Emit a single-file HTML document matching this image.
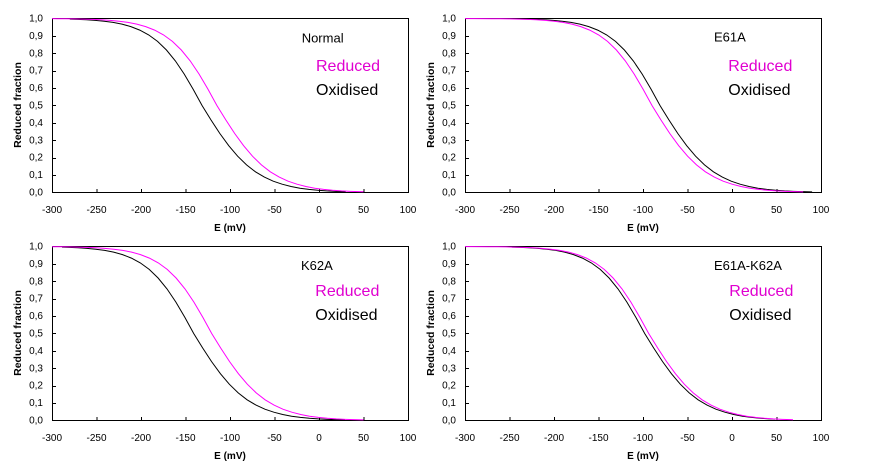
<!DOCTYPE html>
<html>
<head>
<meta charset="utf-8">
<style>
  html,body{margin:0;padding:0;background:#fff;}
  svg{display:block;}
  text{font-family:"Liberation Sans",Arial,sans-serif;fill:#000;}
  .tk{font-size:10px;}
  .ax{font-size:10px;font-weight:bold;}
  .yt{font-size:10.5px;font-weight:bold;}
  .ttl{font-size:13px;}
  .lg{font-size:16px;}
  .mg{fill:#e000d0;}
</style>
</head>
<body>
<svg width="870" height="474" viewBox="0 0 870 474" xmlns="http://www.w3.org/2000/svg">
<rect width="870" height="474" fill="#fff"/>
<defs>
  <clipPath id="c1b" clipPathUnits="userSpaceOnUse"><rect x="17.8" y="-3" width="275.9" height="181"/></clipPath>
  <clipPath id="c1m" clipPathUnits="userSpaceOnUse"><rect x="0" y="-3" width="311.5" height="181"/></clipPath>
  <clipPath id="c2b" clipPathUnits="userSpaceOnUse"><rect x="55.2" y="-3" width="291.9" height="181"/></clipPath>
  <clipPath id="c2m" clipPathUnits="userSpaceOnUse"><rect x="0" y="-3" width="338.2" height="181"/></clipPath>
  <clipPath id="c3b" clipPathUnits="userSpaceOnUse"><rect x="10" y="-3" width="283" height="181"/></clipPath>
  <clipPath id="c3m" clipPathUnits="userSpaceOnUse"><rect x="0" y="-3" width="311.5" height="181"/></clipPath>
  <clipPath id="c4b" clipPathUnits="userSpaceOnUse"><rect x="46.7" y="-3" width="263.3" height="181"/></clipPath>
  <clipPath id="c4m" clipPathUnits="userSpaceOnUse"><rect x="0" y="-3" width="328" height="181"/></clipPath>
</defs>

<!-- ===== Chart 1: Normal ===== -->
<g transform="translate(52,18)">
  <g shape-rendering="crispEdges" stroke="#000" stroke-width="1" fill="none">
    <rect x="0.5" y="0.5" width="356" height="174"/>
    <path d="M0,157.5h4M0,140.5h4M0,122.5h4M0,105.5h4M0,87.5h4M0,70.5h4M0,53.5h4M0,35.5h4M0,18.5h4"/>
    <path d="M45,174v-3M89.5,174v-3M134,174v-3M178.5,174v-3M223,174v-3M267.5,174v-3M312,174v-3"/>
  </g>
  <g class="tk" text-anchor="end">
    <text x="-9" y="177.5">0,0</text><text x="-9" y="160.1">0,1</text><text x="-9" y="142.7">0,2</text>
    <text x="-9" y="125.3">0,3</text><text x="-9" y="107.9">0,4</text><text x="-9" y="90.5">0,5</text>
    <text x="-9" y="73.1">0,6</text><text x="-9" y="55.7">0,7</text><text x="-9" y="38.3">0,8</text>
    <text x="-9" y="20.9">0,9</text><text x="-9" y="3.5">1,0</text>
  </g>
  <g class="tk" text-anchor="middle">
    <text x="0" y="195">-300</text><text x="44.5" y="195">-250</text><text x="89" y="195">-200</text>
    <text x="133.5" y="195">-150</text><text x="178" y="195">-100</text><text x="222.5" y="195">-50</text>
    <text x="267" y="195">0</text><text x="311.5" y="195">50</text><text x="356" y="195">100</text>
  </g>
  <text class="ax" x="178" y="213" text-anchor="middle">E (mV)</text>
  <text class="yt" transform="translate(-31,87) rotate(-90)" text-anchor="middle">Reduced fraction</text>
  <text class="ttl" x="249.7" y="24.3">Normal</text>
  <text class="lg mg" x="264" y="53">Reduced</text>
  <text class="lg" x="264" y="77">Oxidised</text>
  <g clip-path="url(#c1b)"><polyline transform="translate(150.05,174.5)" fill="none" stroke="#000" stroke-width="1" points="-195.8,-173.95 -178,-173.9 -160.2,-173.8 -151.3,-173.7 -142.4,-173.6 -133.5,-173.4 -124.6,-173.1 -115.7,-172.7 -106.8,-172.1 -97.9,-171.3 -89,-170.1 -80.1,-168.4 -71.2,-165.9 -62.3,-162.4 -53.4,-157.6 -44.5,-151.1 -35.6,-142.5 -26.7,-131.6 -17.8,-118.4 -8.9,-103.2 0,-87 8.9,-72.6 17.8,-59 26.7,-46.8 35.6,-36.3 44.5,-27.6 53.4,-20.7 62.3,-15.4 71.2,-11.3 80.1,-8.3 89,-6 97.9,-4.3 106.8,-3.1 115.7,-2.25 124.6,-1.6 133.5,-1.16 142.4,-0.84 151.3,-0.6 160.2,-0.43 169.1,-0.31 178,-0.22 195.8,-0.11 213.6,-0.06"/></g>
  <g clip-path="url(#c1m)"><polyline transform="translate(164.9,174.5)" fill="none" stroke="#ff00ff" stroke-width="1" points="-195.8,-173.95 -178,-173.9 -160.2,-173.8 -151.3,-173.7 -142.4,-173.6 -133.5,-173.4 -124.6,-173.1 -115.7,-172.7 -106.8,-172.1 -97.9,-171.3 -89,-170.1 -80.1,-168.4 -71.2,-165.9 -62.3,-162.4 -53.4,-157.6 -44.5,-151.1 -35.6,-142.5 -26.7,-131.6 -17.8,-118.4 -8.9,-103.2 0,-87 8.9,-72.6 17.8,-59 26.7,-46.8 35.6,-36.3 44.5,-27.6 53.4,-20.7 62.3,-15.4 71.2,-11.3 80.1,-8.3 89,-6 97.9,-4.3 106.8,-3.1 115.7,-2.25 124.6,-1.6 133.5,-1.16 142.4,-0.84 151.3,-0.6 160.2,-0.43 169.1,-0.31 178,-0.22 195.8,-0.11 213.6,-0.06"/></g>
</g>

<!-- ===== Chart 2: E61A ===== -->
<g transform="translate(465,18)">
  <g shape-rendering="crispEdges" stroke="#000" stroke-width="1" fill="none">
    <rect x="0.5" y="0.5" width="356" height="174"/>
    <path d="M0,157.5h4M0,140.5h4M0,122.5h4M0,105.5h4M0,87.5h4M0,70.5h4M0,53.5h4M0,35.5h4M0,18.5h4"/>
    <path d="M45,174v-3M89.5,174v-3M134,174v-3M178.5,174v-3M223,174v-3M267.5,174v-3M312,174v-3"/>
  </g>
  <g class="tk" text-anchor="end">
    <text x="-9" y="177.5">0,0</text><text x="-9" y="160.1">0,1</text><text x="-9" y="142.7">0,2</text>
    <text x="-9" y="125.3">0,3</text><text x="-9" y="107.9">0,4</text><text x="-9" y="90.5">0,5</text>
    <text x="-9" y="73.1">0,6</text><text x="-9" y="55.7">0,7</text><text x="-9" y="38.3">0,8</text>
    <text x="-9" y="20.9">0,9</text><text x="-9" y="3.5">1,0</text>
  </g>
  <g class="tk" text-anchor="middle">
    <text x="0" y="195">-300</text><text x="44.5" y="195">-250</text><text x="89" y="195">-200</text>
    <text x="133.5" y="195">-150</text><text x="178" y="195">-100</text><text x="222.5" y="195">-50</text>
    <text x="267" y="195">0</text><text x="311.5" y="195">50</text><text x="356" y="195">100</text>
  </g>
  <text class="ax" x="178" y="213" text-anchor="middle">E (mV)</text>
  <text class="yt" transform="translate(-31,87) rotate(-90)" text-anchor="middle">Reduced fraction</text>
  <text class="ttl" x="249" y="23.7">E61A</text>
  <text class="lg mg" x="263.3" y="53">Reduced</text>
  <text class="lg" x="263.3" y="77">Oxidised</text>
  <g clip-path="url(#c2b)"><polyline transform="translate(195,174.5)" fill="none" stroke="#000" stroke-width="1" points="-195.8,-173.95 -178,-173.9 -160.2,-173.8 -151.3,-173.7 -142.4,-173.6 -133.5,-173.4 -124.6,-173.1 -115.7,-172.7 -106.8,-172.1 -97.9,-171.3 -89,-170.1 -80.1,-168.4 -71.2,-165.9 -62.3,-162.4 -53.4,-157.6 -44.5,-151.1 -35.6,-142.5 -26.7,-131.6 -17.8,-118.4 -8.9,-103.2 0,-87 8.9,-72.6 17.8,-59 26.7,-46.8 35.6,-36.3 44.5,-27.6 53.4,-20.7 62.3,-15.4 71.2,-11.3 80.1,-8.3 89,-6 97.9,-4.3 106.8,-3.1 115.7,-2.25 124.6,-1.6 133.5,-1.16 142.4,-0.84 151.3,-0.6 160.2,-0.43 169.1,-0.31 178,-0.22 195.8,-0.11 213.6,-0.06"/></g>
  <g clip-path="url(#c2m)"><polyline transform="translate(187,174.5)" fill="none" stroke="#ff00ff" stroke-width="1" points="-195.8,-173.95 -178,-173.9 -160.2,-173.8 -151.3,-173.7 -142.4,-173.6 -133.5,-173.4 -124.6,-173.1 -115.7,-172.7 -106.8,-172.1 -97.9,-171.3 -89,-170.1 -80.1,-168.4 -71.2,-165.9 -62.3,-162.4 -53.4,-157.6 -44.5,-151.1 -35.6,-142.5 -26.7,-131.6 -17.8,-118.4 -8.9,-103.2 0,-87 8.9,-72.6 17.8,-59 26.7,-46.8 35.6,-36.3 44.5,-27.6 53.4,-20.7 62.3,-15.4 71.2,-11.3 80.1,-8.3 89,-6 97.9,-4.3 106.8,-3.1 115.7,-2.25 124.6,-1.6 133.5,-1.16 142.4,-0.84 151.3,-0.6 160.2,-0.43 169.1,-0.31 178,-0.22 195.8,-0.11 213.6,-0.06"/></g>
</g>

<!-- ===== Chart 3: K62A ===== -->
<g transform="translate(52,246)">
  <g shape-rendering="crispEdges" stroke="#000" stroke-width="1" fill="none">
    <rect x="0.5" y="0.5" width="356" height="174"/>
    <path d="M0,157.5h4M0,140.5h4M0,122.5h4M0,105.5h4M0,87.5h4M0,70.5h4M0,53.5h4M0,35.5h4M0,18.5h4"/>
    <path d="M45,174v-3M89.5,174v-3M134,174v-3M178.5,174v-3M223,174v-3M267.5,174v-3M312,174v-3"/>
  </g>
  <g class="tk" text-anchor="end">
    <text x="-9" y="177.5">0,0</text><text x="-9" y="160.1">0,1</text><text x="-9" y="142.7">0,2</text>
    <text x="-9" y="125.3">0,3</text><text x="-9" y="107.9">0,4</text><text x="-9" y="90.5">0,5</text>
    <text x="-9" y="73.1">0,6</text><text x="-9" y="55.7">0,7</text><text x="-9" y="38.3">0,8</text>
    <text x="-9" y="20.9">0,9</text><text x="-9" y="3.5">1,0</text>
  </g>
  <g class="tk" text-anchor="middle">
    <text x="0" y="195">-300</text><text x="44.5" y="195">-250</text><text x="89" y="195">-200</text>
    <text x="133.5" y="195">-150</text><text x="178" y="195">-100</text><text x="222.5" y="195">-50</text>
    <text x="267" y="195">0</text><text x="311.5" y="195">50</text><text x="356" y="195">100</text>
  </g>
  <text class="ax" x="178" y="213" text-anchor="middle">E (mV)</text>
  <text class="yt" transform="translate(-31,87) rotate(-90)" text-anchor="middle">Reduced fraction</text>
  <text class="ttl" x="249" y="24">K62A</text>
  <text class="lg mg" x="263.3" y="50">Reduced</text>
  <text class="lg" x="263.3" y="74">Oxidised</text>
  <g clip-path="url(#c3b)"><polyline transform="translate(141.7,174.5)" fill="none" stroke="#000" stroke-width="1" points="-195.8,-173.95 -178,-173.9 -160.2,-173.8 -151.3,-173.7 -142.4,-173.6 -133.5,-173.4 -124.6,-173.1 -115.7,-172.7 -106.8,-172.1 -97.9,-171.3 -89,-170.1 -80.1,-168.4 -71.2,-165.9 -62.3,-162.4 -53.4,-157.6 -44.5,-151.1 -35.6,-142.5 -26.7,-131.6 -17.8,-118.4 -8.9,-103.2 0,-87 8.9,-72.6 17.8,-59 26.7,-46.8 35.6,-36.3 44.5,-27.6 53.4,-20.7 62.3,-15.4 71.2,-11.3 80.1,-8.3 89,-6 97.9,-4.3 106.8,-3.1 115.7,-2.25 124.6,-1.6 133.5,-1.16 142.4,-0.84 151.3,-0.6 160.2,-0.43 169.1,-0.31 178,-0.22 195.8,-0.11 213.6,-0.06"/></g>
  <g clip-path="url(#c3m)"><polyline transform="translate(159.7,174.5)" fill="none" stroke="#ff00ff" stroke-width="1" points="-195.8,-173.95 -178,-173.9 -160.2,-173.8 -151.3,-173.7 -142.4,-173.6 -133.5,-173.4 -124.6,-173.1 -115.7,-172.7 -106.8,-172.1 -97.9,-171.3 -89,-170.1 -80.1,-168.4 -71.2,-165.9 -62.3,-162.4 -53.4,-157.6 -44.5,-151.1 -35.6,-142.5 -26.7,-131.6 -17.8,-118.4 -8.9,-103.2 0,-87 8.9,-72.6 17.8,-59 26.7,-46.8 35.6,-36.3 44.5,-27.6 53.4,-20.7 62.3,-15.4 71.2,-11.3 80.1,-8.3 89,-6 97.9,-4.3 106.8,-3.1 115.7,-2.25 124.6,-1.6 133.5,-1.16 142.4,-0.84 151.3,-0.6 160.2,-0.43 169.1,-0.31 178,-0.22 195.8,-0.11 213.6,-0.06"/></g>
</g>

<!-- ===== Chart 4: E61A-K62A ===== -->
<g transform="translate(465,246)">
  <g shape-rendering="crispEdges" stroke="#000" stroke-width="1" fill="none">
    <rect x="0.5" y="0.5" width="356" height="174"/>
    <path d="M0,157.5h4M0,140.5h4M0,122.5h4M0,105.5h4M0,87.5h4M0,70.5h4M0,53.5h4M0,35.5h4M0,18.5h4"/>
    <path d="M45,174v-3M89.5,174v-3M134,174v-3M178.5,174v-3M223,174v-3M267.5,174v-3M312,174v-3"/>
  </g>
  <g class="tk" text-anchor="end">
    <text x="-9" y="177.5">0,0</text><text x="-9" y="160.1">0,1</text><text x="-9" y="142.7">0,2</text>
    <text x="-9" y="125.3">0,3</text><text x="-9" y="107.9">0,4</text><text x="-9" y="90.5">0,5</text>
    <text x="-9" y="73.1">0,6</text><text x="-9" y="55.7">0,7</text><text x="-9" y="38.3">0,8</text>
    <text x="-9" y="20.9">0,9</text><text x="-9" y="3.5">1,0</text>
  </g>
  <g class="tk" text-anchor="middle">
    <text x="0" y="195">-300</text><text x="44.5" y="195">-250</text><text x="89" y="195">-200</text>
    <text x="133.5" y="195">-150</text><text x="178" y="195">-100</text><text x="222.5" y="195">-50</text>
    <text x="267" y="195">0</text><text x="311.5" y="195">50</text><text x="356" y="195">100</text>
  </g>
  <text class="ax" x="178" y="213" text-anchor="middle">E (mV)</text>
  <text class="yt" transform="translate(-31,87) rotate(-90)" text-anchor="middle">Reduced fraction</text>
  <text class="ttl" x="249" y="24">E61A-K62A</text>
  <text class="lg mg" x="264.3" y="50">Reduced</text>
  <text class="lg" x="264.3" y="74">Oxidised</text>
  <g clip-path="url(#c4b)"><polyline transform="translate(179.7,174.5)" fill="none" stroke="#000" stroke-width="1" points="-195.8,-173.95 -178,-173.9 -160.2,-173.8 -151.3,-173.7 -142.4,-173.6 -133.5,-173.4 -124.6,-173.1 -115.7,-172.7 -106.8,-172.1 -97.9,-171.3 -89,-170.1 -80.1,-168.4 -71.2,-165.9 -62.3,-162.4 -53.4,-157.6 -44.5,-151.1 -35.6,-142.5 -26.7,-131.6 -17.8,-118.4 -8.9,-103.2 0,-87 8.9,-72.6 17.8,-59 26.7,-46.8 35.6,-36.3 44.5,-27.6 53.4,-20.7 62.3,-15.4 71.2,-11.3 80.1,-8.3 89,-6 97.9,-4.3 106.8,-3.1 115.7,-2.25 124.6,-1.6 133.5,-1.16 142.4,-0.84 151.3,-0.6 160.2,-0.43 169.1,-0.31 178,-0.22 195.8,-0.11 213.6,-0.06"/></g>
  <g clip-path="url(#c4m)"><polyline transform="translate(183.7,174.5)" fill="none" stroke="#ff00ff" stroke-width="1" points="-195.8,-173.95 -178,-173.9 -160.2,-173.8 -151.3,-173.7 -142.4,-173.6 -133.5,-173.4 -124.6,-173.1 -115.7,-172.7 -106.8,-172.1 -97.9,-171.3 -89,-170.1 -80.1,-168.4 -71.2,-165.9 -62.3,-162.4 -53.4,-157.6 -44.5,-151.1 -35.6,-142.5 -26.7,-131.6 -17.8,-118.4 -8.9,-103.2 0,-87 8.9,-72.6 17.8,-59 26.7,-46.8 35.6,-36.3 44.5,-27.6 53.4,-20.7 62.3,-15.4 71.2,-11.3 80.1,-8.3 89,-6 97.9,-4.3 106.8,-3.1 115.7,-2.25 124.6,-1.6 133.5,-1.16 142.4,-0.84 151.3,-0.6 160.2,-0.43 169.1,-0.31 178,-0.22 195.8,-0.11 213.6,-0.06"/></g>
</g>
</svg>
</body>
</html>
